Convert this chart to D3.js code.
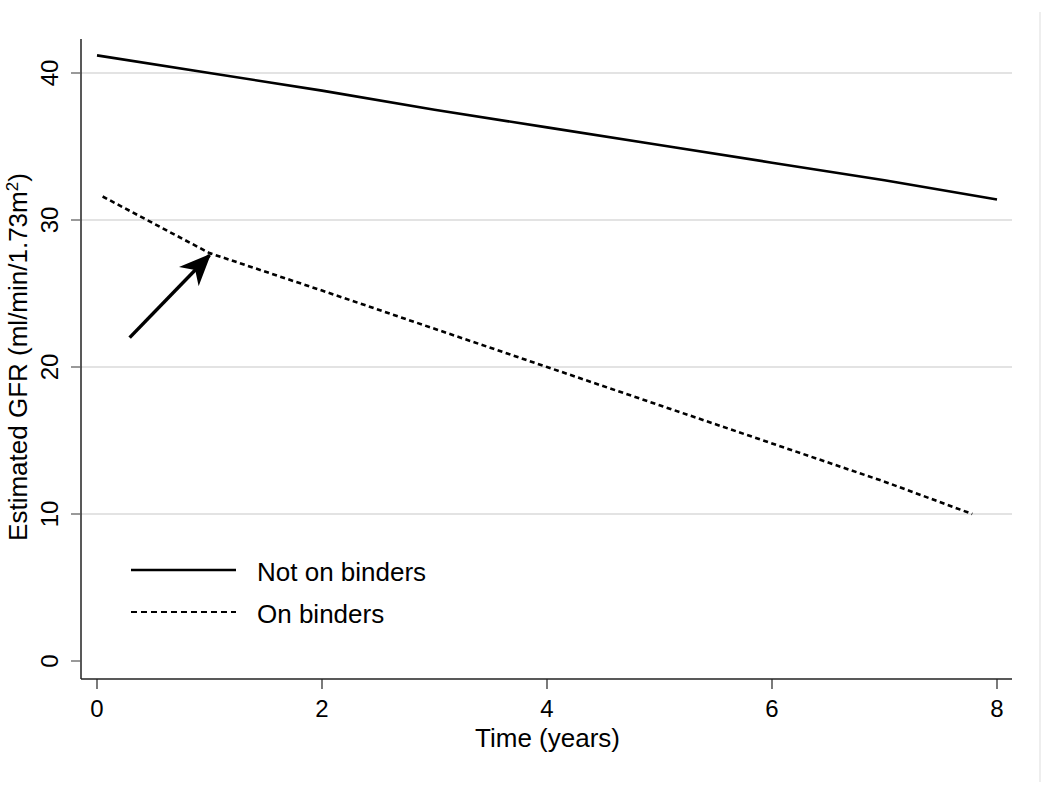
<!DOCTYPE html>
<html>
<head>
<meta charset="utf-8">
<script src="https://cdn.jsdelivr.net/npm/d3@7"></script>
<style>
body { margin: 0; background: #fff; }
text { font-family: "Liberation Sans", Arial, sans-serif; fill: #000; }
</style>
</head>
<body>
<svg class="chart"></svg>
<script>
var width = 1050;
var height = 794;

// data
var years = [0, 1, 2, 3, 4, 5, 6, 7, 8];
var notOnBinders = [41.2, 40.0, 38.8, 37.5, 36.3, 35.1, 33.9, 32.7, 31.4];
var onBindersYears = [0.05, 1.0, 2.0, 3.0, 4.0, 5.0, 6.0, 7.0, 7.78];
var onBinders = [31.6, 27.75, 25.2, 22.6, 20.0, 17.4, 14.8, 12.2, 10.0];
var xTicks = [0, 2, 4, 6, 8];
var yTicks = [0, 10, 20, 30, 40];
var arrowFrom = [0.29, 22.0];
var arrowTo = [1.0, 27.6];
var legendLabels = ["Not on binders", "On binders"];

var svg = d3.select(".chart")
    .attr("width", width)
    .attr("height", height);

var x = d3.scaleLinear().domain([0, 8]).range([97, 997]);
var y = d3.scaleLinear().domain([0, 40]).range([661, 73]);

var plotLeft = 81, plotRight = 1012, plotTop = 39, plotBottom = 679;

// faint frame line on the right
svg.append("line")
    .attr("x1", 1040).attr("x2", 1040)
    .attr("y1", 12).attr("y2", 782)
    .style("stroke", "#eeeeee")
    .style("stroke-width", 2);

// gridlines
svg.selectAll(".grid")
    .data(yTicks.filter(function(d) { return d > 0; }))
    .enter().append("line")
    .attr("class", "grid")
    .attr("x1", plotLeft).attr("x2", plotRight)
    .attr("y1", function(d) { return y(d); })
    .attr("y2", function(d) { return y(d); })
    .style("stroke", "#c8c8c8")
    .style("stroke-width", 1.2);

// y axis
svg.append("line")
    .attr("x1", plotLeft).attr("x2", plotLeft)
    .attr("y1", plotTop).attr("y2", plotBottom)
    .style("stroke", "#222").style("stroke-width", 1.5);

svg.selectAll(".ytick")
    .data(yTicks)
    .enter().append("line")
    .attr("x1", plotLeft - 10).attr("x2", plotLeft)
    .attr("y1", function(d) { return y(d); })
    .attr("y2", function(d) { return y(d); })
    .style("stroke", "#555").style("stroke-width", 1.2);

svg.selectAll(".ylab")
    .data(yTicks)
    .enter().append("text")
    .attr("transform", function(d) { return "translate(58," + y(d) + ") rotate(-90)"; })
    .attr("text-anchor", "middle")
    .style("font-size", "24px")
    .text(function(d) { return d; });

// x axis
svg.append("line")
    .attr("x1", plotLeft).attr("x2", plotRight)
    .attr("y1", plotBottom).attr("y2", plotBottom)
    .style("stroke", "#222").style("stroke-width", 1.5);

svg.selectAll(".xtick")
    .data(xTicks)
    .enter().append("line")
    .attr("x1", function(d) { return x(d); })
    .attr("x2", function(d) { return x(d); })
    .attr("y1", plotBottom).attr("y2", plotBottom + 10)
    .style("stroke", "#222").style("stroke-width", 1.2);

svg.selectAll(".xlab")
    .data(xTicks)
    .enter().append("text")
    .attr("x", function(d) { return x(d); })
    .attr("y", 717)
    .attr("text-anchor", "middle")
    .style("font-size", "24px")
    .text(function(d) { return d; });

// axis titles
svg.append("text")
    .attr("x", (plotLeft + plotRight) / 2 + 1)
    .attr("y", 747)
    .attr("text-anchor", "middle")
    .style("font-size", "26px")
    .text("Time (years)");

var ytitle = svg.append("text")
    .attr("transform", "translate(27,357) rotate(-90)")
    .attr("text-anchor", "middle")
    .style("font-size", "26px");
ytitle.append("tspan").text("Estimated GFR (ml/min/1.73m");
ytitle.append("tspan").attr("dy", -9).style("font-size", "17px").text("2");
ytitle.append("tspan").attr("dy", 9).text(")");

// lines
var line = d3.line()
    .x(function(d) { return x(d[0]); })
    .y(function(d) { return y(d[1]); });

svg.append("path")
    .datum(d3.zip(years, notOnBinders))
    .attr("d", line)
    .style("fill", "none")
    .style("stroke", "#000")
    .style("stroke-width", 2.6);

svg.append("path")
    .datum(d3.zip(onBindersYears, onBinders))
    .attr("d", line)
    .style("fill", "none")
    .style("stroke", "#000")
    .style("stroke-width", 2.6)
    .style("stroke-dasharray", "5,3.5");

// arrow annotation
svg.append("defs").append("marker")
    .attr("id", "head")
    .attr("viewBox", "0 -6 14 12")
    .attr("refX", 13)
    .attr("refY", 0)
    .attr("markerWidth", 32)
    .attr("markerHeight", 28)
    .attr("markerUnits", "userSpaceOnUse")
    .attr("orient", "auto")
    .append("path")
    .attr("d", "M0,-6 L14,0 L0,6 L4,0 Z")
    .style("fill", "#000");

svg.append("line")
    .attr("x1", x(arrowFrom[0])).attr("y1", y(arrowFrom[1]))
    .attr("x2", x(arrowTo[0])).attr("y2", y(arrowTo[1]))
    .style("stroke", "#000")
    .style("stroke-width", 3.5)
    .attr("marker-end", "url(#head)");

// legend
var legend = svg.selectAll(".legend")
    .data(legendLabels)
    .enter().append("g")
    .attr("transform", function(d, i) { return "translate(0," + (570 + i * 42) + ")"; });

legend.append("line")
    .attr("x1", 131).attr("x2", 236)
    .attr("y1", 0).attr("y2", 0)
    .style("stroke", "#000")
    .style("stroke-width", function(d, i) { return i == 0 ? 2.5 : 2; })
    .style("stroke-dasharray", function(d, i) { return i == 0 ? null : "6,4"; });

legend.append("text")
    .attr("x", 257)
    .attr("y", 11)
    .style("font-size", "26px")
    .text(function(d) { return d; });
</script>
</body>
</html>
